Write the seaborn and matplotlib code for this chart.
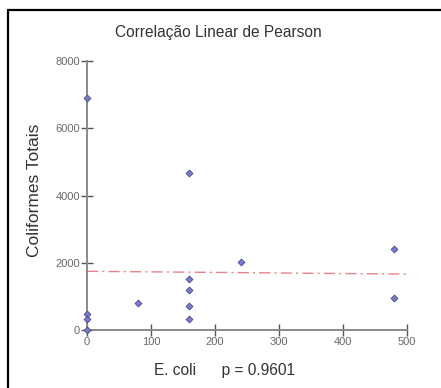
import numpy as np
import pandas as pd
import matplotlib
matplotlib.use('Agg')
import matplotlib.pyplot as plt
from matplotlib.lines import Line2D
import seaborn as sns

# valores
ecoli = [0, 0, 0, 0, 79, 160, 160, 160, 160, 160, 240, 480, 480]
coliformes = [6900, 490, 320, 0, 800, 4670, 1530, 1200, 720, 320, 2020, 2420, 960]
x_ticks = [0, 100, 200, 300, 400, 500]
y_ticks = [0, 2000, 4000, 6000, 8000]
p_valor = 0.9601

df = pd.DataFrame({'E. coli': ecoli, 'Coliformes Totais': coliformes})

sns.set_style('white')
plt.rcParams['font.family'] = ['Liberation Sans', 'DejaVu Sans']

fig = plt.figure(figsize=(4.41, 3.88), dpi=100)
ax = fig.add_axes([87 / 441, 58 / 388, 320 / 441, 269 / 388])
ax.set_xlim(0, 500)
ax.set_ylim(0, 8000)

sns.regplot(data=df, x='E. coli', y='Coliformes Totais', ax=ax, scatter=False,
            ci=None, truncate=False,
            line_kws={'color': '#e8828c', 'lw': 1.0, 'ls': (0, (8, 3, 1.5, 3))})
sns.scatterplot(data=df, x='E. coli', y='Coliformes Totais', ax=ax, marker='D',
                s=12, color='#7b7bcc', edgecolor='#45458a', linewidth=0.6,
                clip_on=False, zorder=5)

ax.set_xlim(0, 500)
ax.set_ylim(0, 8000)
ax.set_xticks(x_ticks)
ax.set_yticks(y_ticks)
ax.set_xlabel('')
ax.set_ylabel('')
for s in ['top', 'right']:
    ax.spines[s].set_visible(False)
for s in ['left', 'bottom']:
    ax.spines[s].set_color('#8a8a8a')
    ax.spines[s].set_linewidth(1.4)
ax.tick_params(bottom=True, left=True, direction='inout', length=8, width=1,
               color='#555555', labelsize=8, labelcolor='#6a6a6a', pad=1)

fig.text(0.495, 0.915, 'Correlação Linear de Pearson', ha='center', va='center',
         fontsize=11.2, color='#333333')
fig.text(0.078, 0.51, 'Coliformes Totais', ha='center', va='center',
         rotation=90, fontsize=12.5, color='#333333')
fig.text(0.51, 0.046, f'E. coli      p = {p_valor}', ha='center', va='center',
         fontsize=11.2, color='#333333')

# moldura
fig.add_artist(Line2D([8 / 441, 8 / 441], [0, 1 - 10 / 388], color='black', lw=1.6))
fig.add_artist(Line2D([8 / 441, 1], [1 - 10 / 388, 1 - 10 / 388], color='black', lw=1.6))

plt.savefig('out.png', dpi=100)
plt.close()
